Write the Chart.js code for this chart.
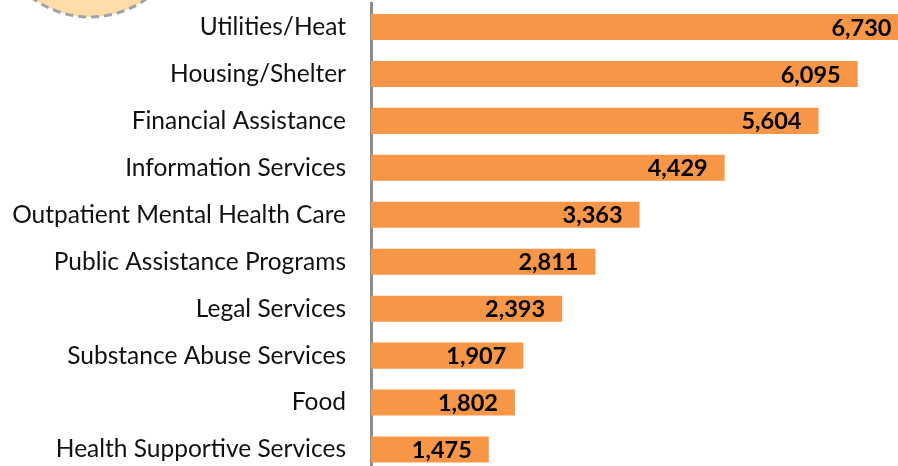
<!DOCTYPE html>
<html>
<head>
<meta charset="utf-8">
<script src="https://cdn.jsdelivr.net/npm/chart.js@4.4.1/dist/chart.umd.min.js"></script>
<style>
  html, body { margin: 0; padding: 0; overflow: hidden; background: #fff; }
  #wrap { position: absolute; left: 0; top: 0; width: 914px; height: 473px; }
</style>
</head>
<body>
<div id="wrap"><canvas id="servicosChart" width="914" height="473"></canvas></div>
<script>
// categorias e valores
const categorias = [
    'Utilities/Heat',
    'Housing/Shelter',
    'Financial Assistance',
    'Information Services',
    'Outpatient Mental Health Care',
    'Public Assistance Programs',
    'Legal Services',
    'Substance Abuse Services',
    'Food',
    'Health Supportive Services'
];
const valores = [6730, 6095, 5604, 4429, 3363, 2811, 2393, 1907, 1802, 1475];

const fonte = 'Lato, "Open Sans", sans-serif';

// circulo decorativo no canto superior esquerdo
const circuloPlugin = {
    id: 'circulo',
    beforeDraw(chart) {
        const ctx = chart.ctx;
        ctx.save();
        ctx.beginPath();
        ctx.arc(90, -80, 97, 0, Math.PI * 2);
        ctx.fillStyle = '#FFDCA8';
        ctx.fill();
        ctx.setLineDash([8, 5]);
        ctx.lineWidth = 3;
        ctx.strokeStyle = '#A0A3A6';
        ctx.stroke();
        ctx.restore();
    }
};

// rotulos de valor dentro das barras
const rotulosPlugin = {
    id: 'rotulos',
    afterDatasetsDraw(chart) {
        const ctx = chart.ctx;
        const meta = chart.getDatasetMeta(0);
        ctx.save();
        ctx.font = 'bold 23.5px ' + fonte;
        ctx.fillStyle = '#000';
        ctx.textAlign = 'right';
        ctx.textBaseline = 'middle';
        meta.data.forEach((bar, i) => {
            ctx.fillText(valores[i].toLocaleString('en-US'), bar.x - 17, bar.y + 1);
        });
        ctx.restore();
    }
};

const ctx = document.getElementById('servicosChart').getContext('2d');
new Chart(ctx, {
    type: 'bar',
    data: {
        labels: categorias,
        datasets: [{
            data: valores,
            backgroundColor: '#F79646',
            borderWidth: 0,
            barPercentage: 0.555,
            categoryPercentage: 1
        }]
    },
    plugins: [circuloPlugin, rotulosPlugin],
    options: {
        indexAxis: 'y',
        responsive: false,
        animation: false,
        layout: { padding: { top: 3.5, right: 0, bottom: 0, left: 0 } },
        plugins: {
            legend: { display: false },
            tooltip: { enabled: false }
        },
        scales: {
            x: {
                display: false,
                min: 0,
                max: 6800
            },
            y: {
                afterFit: scale => {
                    scale.width = 371;
                    scale.paddingTop = 0;
                    scale.paddingBottom = 0;
                },
                grid: { display: false, drawTicks: false },
                border: { display: true, color: '#8C8C8C', width: 3 },
                ticks: {
                    color: '#111',
                    padding: 25,
                    font: { family: fonte, size: 24.5 }
                }
            }
        }
    }
});
</script>
</body>
</html>
